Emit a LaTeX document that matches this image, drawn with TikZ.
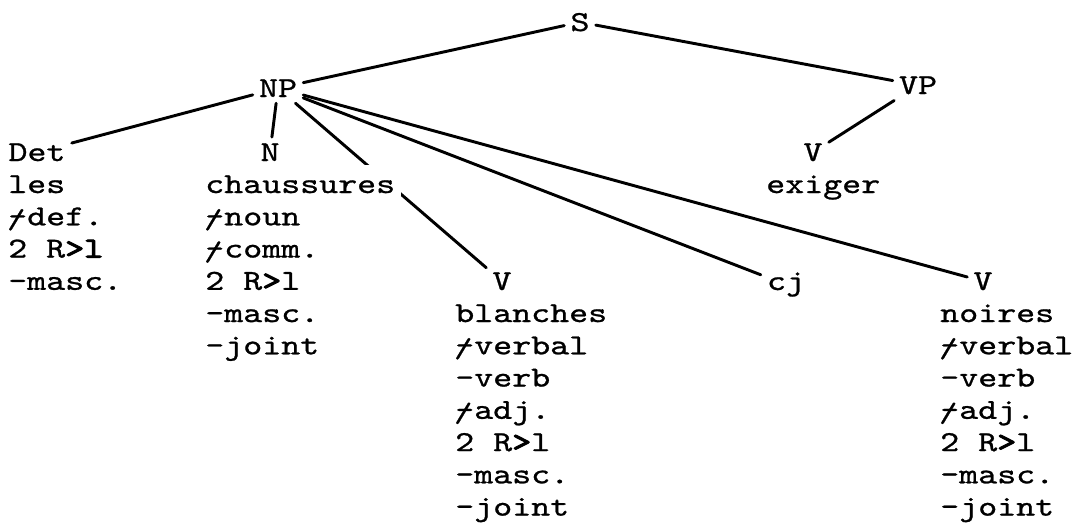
\documentclass[tikz,border=0pt]{standalone}
\usepackage{fontspec}
\newfontfamily\twfont{lmmono10-regular}[Extension=.otf, FakeStretch=1.25, FakeBold=0.9]
\newfontfamily\twboldfont{lmmono10-regular}[Extension=.otf, FakeStretch=1.25, FakeBold=3.5]
\usepackage{graphicx}
\newcommand\tw{\twfont\fontsize{21.7pt}{24.2pt}\selectfont}
\newcommand\plusmark{\makebox[0pt][l]{\makebox[0.55em][c]{\raisebox{-0.1em}{\scalebox{0.95}{/}}}}-}
\newcommand\rgt{{\twboldfont >}}
\begin{document}
\begin{tikzpicture}[x=0.75pt,y=-0.75pt,
  every node/.style={font=\tw},
  cat/.style={anchor=base, inner sep=4.5pt},
  blk/.style={anchor=base west, inner sep=0pt},
  edge/.style={line width=2.2pt, line cap=round}]
\useasboundingbox[fill=white] (0,0) rectangle (1078,526);
% category labels
\node[cat] (S)   at (580,31)  {S};
\node[cat] (NP)  at (278,97)  {NP};
\node[cat] (VP)  at (918,94)  {VP};
\node[cat] (Det) at (37,161)  {Det};
\node[cat] (N)   at (270,161) {N};
\node[cat] (Ve)  at (813,161) {V};
\node[cat] (Vb)  at (502,290) {V};
\node[cat] (cj)  at (786,290) {cj};
\node[cat] (Vn)  at (983,290) {V};
% connectors
\draw[edge] (S) -- (NP);
\draw[edge] (S) -- (VP);
\draw[edge] (VP) -- (Ve);
\draw[edge] (NP) -- (Det);
\draw[edge] (NP) -- (N);
\draw[edge] (NP) -- (Vb);
\draw[edge] (NP) -- (cj);
\draw[edge] (NP) -- (Vn);
% word / feature blocks (drawn over the connectors)
\node[blk] (les) at (8,193) {\begin{tabular}[t]{@{}l@{}}les\\\plusmark def.\\2 R\rgt{\twboldfont l}\\-masc.\end{tabular}};
\node[blk, fill=white, inner sep=4pt] (chaussures) at (199.7,193) {\begin{tabular}[t]{@{}l@{}}chaussures\\\plusmark noun\\\plusmark comm.\\2 R\rgt l\\-masc.\\-joint\end{tabular}};
\node[blk] (exiger) at (766,193) {exiger};
\node[blk] (blanches) at (455,322) {\begin{tabular}[t]{@{}l@{}}blanches\\\plusmark verbal\\-verb\\\plusmark adj.\\2 R\rgt l\\-masc.\\-joint\end{tabular}};
\node[blk] (noires) at (940,322) {\begin{tabular}[t]{@{}l@{}}noires\\\plusmark verbal\\-verb\\\plusmark adj.\\2 R\rgt l\\-masc.\\-joint\end{tabular}};
\end{tikzpicture}
\end{document}
